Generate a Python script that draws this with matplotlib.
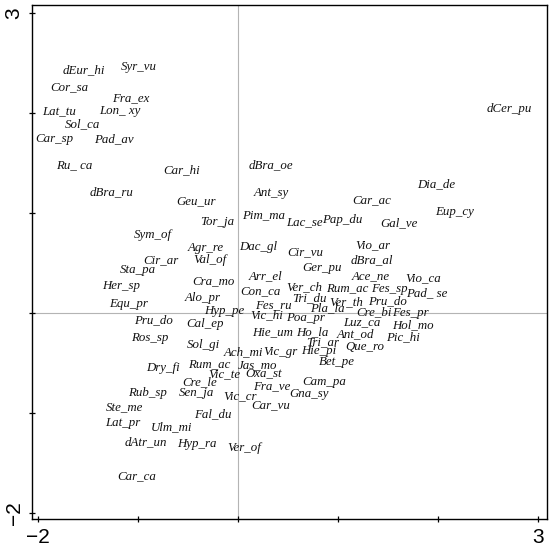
"""Species ordination plot (axis 1 vs axis 2), labels only."""

import matplotlib
matplotlib.use("Agg")
import matplotlib.pyplot as plt

# species codes and their scores on the first two axes
species = [
    "dEur_hi", "Syr_vu", "Cor_sa", "Fra_ex", "Lat_tu", "Lon_ xy", "Sol_ca",
    "Car_sp", "Pad_av", "Ru_ ca", "Car_hi", "dBra_ru", "dBra_oe", "Ant_sy",
    "dCer_pu", "Dia_de", "Car_ac", "Geu_ur", "Pim_ma", "Tor_ja", "Lac_se",
    "Pap_du", "Gal_ve", "Eup_cy", "Sym_of", "Agr_re", "Dac_gl", "Cir_vu",
    "Vio_ar", "Cir_ar", "Val_of", "dBra_al", "Sta_pa", "Ger_pu", "Cra_mo",
    "Arr_el", "Ace_ne", "Vio_ca", "Her_sp", "Con_ca", "Ver_ch", "Rum_ac",
    "Fes_sp", "Pad_ se", "Alo_pr", "Equ_pr", "Fes_ru", "Tri_du", "Ver_th",
    "Pru_do", "Hyp_pe", "Pla_la", "Cre_bi", "Fes_pr", "Vic_hi", "Pru_do",
    "Cal_ep", "Poa_pr", "Luz_ca", "Hol_mo", "Ros_sp", "Hie_um", "Ho_la",
    "Ant_od", "Pic_hi", "Tri_ar", "Sol_gi", "Ach_mi", "Vic_gr", "Hie_pi",
    "Que_ro", "Bet_pe", "Jas_mo", "Dry_fi", "Rum_ac", "Vic_te", "Oxa_st",
    "Cre_le", "Cam_pa", "Fra_ve", "Rub_sp", "Sen_ja", "Vic_cr", "Gna_sy",
    "Car_vu", "Ste_me", "Fal_du", "Lat_pr", "Ulm_mi", "dAtr_un", "Hyp_ra",
    "Ver_of", "Car_ca",
]
axis1 = [
    -1.54, -0.99, -1.69, -1.07, -1.79, -1.18, -1.55,
    -1.84, -1.24, -1.64, -0.56, -1.26, 0.33, 0.33,
    2.71, 1.98, 1.34, -0.42, 0.26, -0.21, 0.66,
    1.04, 1.61, 2.17, -0.85, -0.32, 0.20, 0.67,
    1.35, -0.77, -0.28, 1.34, -1.00, 0.84, -0.25,
    0.28, 1.33, 1.85, -1.17, 0.22, 0.66, 1.09,
    1.51, 1.89, -0.35, -1.09, 0.35, 0.71, 1.08,
    1.49, -0.14, 0.89, 1.36, 1.72, 0.29, -0.85,
    -0.33, 0.67, 1.24, 1.75, -0.88, 0.35, 0.74,
    1.17, 1.65, 0.85, -0.35, 0.05, 0.42, 0.81,
    1.27, 0.99, 0.20, -0.75, -0.29, -0.14, 0.26,
    -0.38, 0.86, 0.34, -0.91, -0.41, 0.02, 0.71,
    0.33, -1.13, -0.25, -1.15, -0.66, -0.92, -0.41,
    0.06, -1.01,
]
axis2 = [
    2.43, 2.46, 2.26, 2.15, 2.02, 2.02, 1.89,
    1.74, 1.74, 1.48, 1.43, 1.21, 1.48, 1.20,
    2.04, 1.29, 1.13, 1.12, 0.98, 0.91, 0.91,
    0.93, 0.90, 1.01, 0.78, 0.65, 0.66, 0.61,
    0.68, 0.53, 0.53, 0.53, 0.43, 0.45, 0.32,
    0.37, 0.37, 0.35, 0.27, 0.22, 0.26, 0.25,
    0.24, 0.20, 0.15, 0.09, 0.08, 0.15, 0.11,
    0.12, 0.02, 0.05, 0.01, 0.00, -0.02, -0.07,
    -0.11, -0.05, -0.09, -0.12, -0.25, -0.19, -0.19,
    -0.21, -0.24, -0.29, -0.32, -0.39, -0.39, -0.38,
    -0.34, -0.49, -0.52, -0.55, -0.51, -0.61, -0.60,
    -0.69, -0.69, -0.73, -0.80, -0.80, -0.83, -0.81,
    -0.92, -0.94, -1.01, -1.10, -1.14, -1.29, -1.31,
    -1.35, -1.63,
]
ticks = [-2, -1, 0, 1, 2, 3]
tick_labels = ["\u22122", "", "", "", "", "3"]

fig = plt.figure(figsize=(5.5, 5.51), dpi=100)
ax = fig.add_axes([0.0582, 0.0572, 0.9364, 0.9337])

ax.axhline(0, color="#b4b4b4", lw=0.8, zorder=0)
ax.axvline(0, color="#b4b4b4", lw=0.8, zorder=0)

for name, x, y in zip(species, axis1, axis2):
    ax.text(x, y, name, ha="center", va="center", fontsize=9.3,
            family="Liberation Serif", style="italic", color="#111111")

ax.set_xlim(-2.06, 3.09)
ax.set_ylim(-2.065, 3.08)
ax.set_xticks(ticks)
ax.set_xticklabels(tick_labels)
ax.set_yticks(ticks)
ax.set_yticklabels(tick_labels, rotation=90, va="center")
ax.tick_params(direction="inout", length=4, width=0.9, labelsize=15, pad=4)
for lbl in ax.get_xticklabels() + ax.get_yticklabels():
    lbl.set_family("Liberation Sans")
for sp in ax.spines.values():
    sp.set_linewidth(1.0)

fig.savefig("out.png", dpi=100)
